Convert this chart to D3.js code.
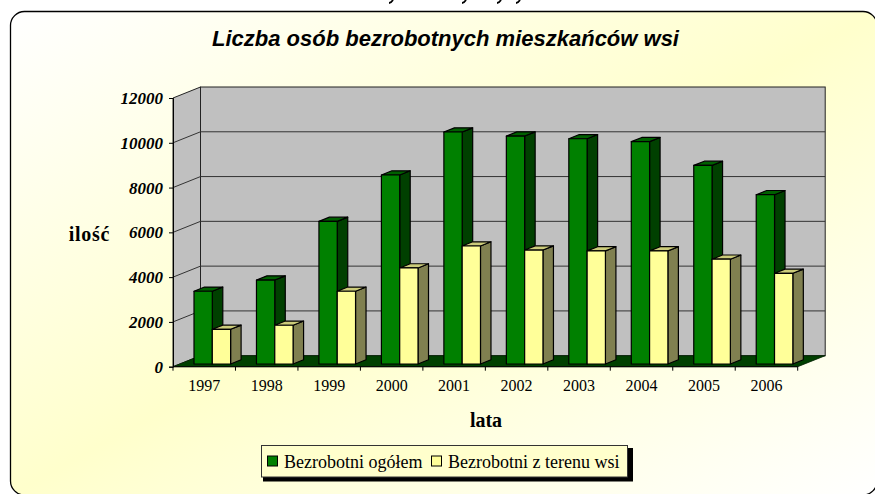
<!DOCTYPE html>
<html lang="pl">
<head>
<meta charset="utf-8">
<title>Liczba osób bezrobotnych mieszkańców wsi</title>
<script src="https://cdn.jsdelivr.net/npm/d3@7"></script>
<style>
html, body { margin: 0; padding: 0; background: #fff; overflow: hidden; }
svg { display: block; }
</style>
</head>
<body>
<div id="chart"></div>
<script>
var lata = ["1997", "1998", "1999", "2000", "2001", "2002", "2003", "2004", "2005", "2006"];
var ogolem = [3250, 3750, 6370, 8440, 10360, 10180, 10060, 9930, 8870, 7560];
var zTerenuWsi = [1550, 1730, 3250, 4290, 5270, 5090, 5050, 5050, 4680, 4050];
var yTicks = [0, 2000, 4000, 6000, 8000, 10000, 12000];
var nazwySerii = ["Bezrobotni ogółem", "Bezrobotni z terenu wsi"];
var kolory = [
    { front: "#008000", side: "#004000", top: "#006000" },
    { front: "#FFFF99", side: "#808050", top: "#CCCC7A" }
];

var width = 875, height = 494;
var serif = "'Liberation Serif', serif";
var sans = "'Liberation Sans', sans-serif";

// geometria "3D": przesuniecie sciany tylnej i slupka
var depthX = 27.5, depthY = -11;
var barDepthX = 10.5, barDepthY = -4.2;
var barOffsetY = -2.7;

var svg = d3.select("#chart").append("svg")
    .attr("width", width)
    .attr("height", height)
    .attr("viewBox", "0 0 " + width + " " + height);

var defs = svg.append("defs");
var grad = defs.append("linearGradient").attr("id", "tlo")
    .attr("x1", 0).attr("y1", 0).attr("x2", 1).attr("y2", 1);
grad.append("stop").attr("offset", "0%").attr("stop-color", "#FFFFFF");
grad.append("stop").attr("offset", "50%").attr("stop-color", "#FFFFCC");
grad.append("stop").attr("offset", "100%").attr("stop-color", "#FFFFFF");

// resztki ucietego naglowka nad wykresem (nieczytelne, tylko kreski)
svg.selectAll(".urwany")
    .data([389, 462, 497, 516])
  .enter().append("path")
    .attr("class", "urwany")
    .attr("d", function (d) { return "M" + (d + 4) + ",0 Q" + (d + 2) + ",3 " + d + ",3"; })
    .attr("fill", "none")
    .attr("stroke", "#000")
    .attr("stroke-width", 1.8);

svg.append("rect")
    .attr("x", 10.5).attr("y", 11.5)
    .attr("width", 866.5).attr("height", 483.5)
    .attr("rx", 14).attr("ry", 14)
    .attr("fill", "url(#tlo)")
    .attr("stroke", "#000")
    .attr("stroke-width", 1.3);

svg.append("text")
    .attr("x", 445.5).attr("y", 46)
    .attr("text-anchor", "middle")
    .attr("font-family", sans)
    .attr("font-weight", "bold")
    .attr("font-style", "italic")
    .attr("font-size", 22)
    .attr("fill", "#000")
    .text("Liczba osób bezrobotnych mieszkańców wsi");

var x = d3.scaleBand().domain(lata).range([173, 797.7]);
var y = d3.scaleLinear().domain([0, 12000]).range([366.7, 98]);
var xSeria = d3.scaleBand().domain([0, 1]).range([21, 57.6]);

var x0 = x.range()[0], x1 = x.range()[1];
var y0 = y(0), yMax = y(12000);

function pts(arr) {
    return arr.map(function (p) { return p.join(","); }).join(" ");
}

// sciany i podloga
var sciany = svg.append("g");
sciany.append("rect")
    .attr("x", x0 + depthX).attr("y", yMax + depthY)
    .attr("width", x1 - x0).attr("height", y0 - yMax)
    .attr("fill", "#C0C0C0")
    .attr("stroke", "#222")
    .attr("stroke-width", 1);
sciany.append("polygon")
    .attr("points", pts([[x0, y0], [x0 + depthX, y0 + depthY], [x0 + depthX, yMax + depthY], [x0, yMax]]))
    .attr("fill", "#C0C0C0")
    .attr("stroke", "#222")
    .attr("stroke-width", 1);

// linie siatki
sciany.selectAll(".siatka")
    .data(yTicks.slice(1, -1))
  .enter().append("polyline")
    .attr("class", "siatka")
    .attr("points", function (d) {
        return pts([[x0, y(d)], [x0 + depthX, y(d) + depthY], [x1 + depthX, y(d) + depthY]]);
    })
    .attr("fill", "none")
    .attr("stroke", "#333")
    .attr("stroke-width", 1);

sciany.append("polygon")
    .attr("points", pts([[x0, y0], [x1, y0], [x1 + depthX, y0 + depthY], [x0 + depthX, y0 + depthY]]))
    .attr("fill", "#004000")
    .attr("stroke", "#002000")
    .attr("stroke-width", 0.8);

// slupki
function rysujSlupek(g, rok, seria, wartosc) {
    var k = kolory[seria];
    var left = x(rok) + xSeria(seria);
    var w = xSeria.bandwidth();
    var dol = y(0) + barOffsetY;
    var gora = y(wartosc) + barOffsetY;
    var h = dol - gora;
    g.append("polygon")
        .attr("points", pts([[left + w, gora], [left + w + barDepthX, gora + barDepthY], [left + w + barDepthX, dol + barDepthY], [left + w, dol]]))
        .attr("fill", k.side);
    g.append("polygon")
        .attr("points", pts([[left, gora], [left + barDepthX, gora + barDepthY], [left + w + barDepthX, gora + barDepthY], [left + w, gora]]))
        .attr("fill", k.top);
    g.append("rect")
        .attr("x", left).attr("y", gora)
        .attr("width", w).attr("height", h)
        .attr("fill", k.front);
}

var slupki = svg.append("g")
    .attr("stroke", "#000")
    .attr("stroke-width", 1.2)
    .attr("stroke-linejoin", "round");
lata.forEach(function (rok, i) {
    rysujSlupek(slupki, rok, 0, ogolem[i]);
    rysujSlupek(slupki, rok, 1, zTerenuWsi[i]);
});

// os Y
var yAxis = svg.append("g")
    .attr("transform", "translate(" + x0 + ",0)")
    .call(d3.axisLeft(y).tickValues(yTicks).tickFormat(d3.format("d")).tickSize(4).tickPadding(6));
yAxis.select(".domain").attr("stroke", "#000");
yAxis.selectAll("text")
    .attr("font-family", serif)
    .attr("font-weight", "bold")
    .attr("font-style", "italic")
    .attr("font-size", 17)
    .attr("fill", "#000");

// os X, kreski na granicach kategorii
var xAxis = svg.append("g")
    .attr("transform", "translate(0," + y0 + ")")
    .call(d3.axisBottom(x).tickSize(0).tickPadding(13));
xAxis.select(".domain").remove();
xAxis.selectAll("text")
    .attr("font-family", serif)
    .attr("font-size", 16)
    .attr("fill", "#000");
svg.append("line")
    .attr("x1", x0).attr("x2", x1).attr("y1", y0).attr("y2", y0)
    .attr("stroke", "#000");
svg.selectAll(".kreska")
    .data(lata.concat(["koniec"]))
  .enter().append("line")
    .attr("class", "kreska")
    .attr("x1", function (d) { return d === "koniec" ? x1 : x(d); })
    .attr("x2", function (d) { return d === "koniec" ? x1 : x(d); })
    .attr("y1", y0)
    .attr("y2", y0 + 4)
    .attr("stroke", "#000");

// tytuly osi
svg.append("text")
    .attr("x", 89.5).attr("y", 240.5)
    .attr("text-anchor", "middle")
    .attr("font-family", serif)
    .attr("font-weight", "bold")
    .attr("font-size", 20)
    .attr("letter-spacing", 0.7)
    .text("ilość");
svg.append("text")
    .attr("x", 486).attr("y", 427)
    .attr("text-anchor", "middle")
    .attr("font-family", serif)
    .attr("font-weight", "bold")
    .attr("font-size", 20)
    .text("lata");

// legenda
var legenda = svg.append("g");
legenda.append("rect")
    .attr("x", 263).attr("y", 448)
    .attr("width", 370).attr("height", 33.5)
    .attr("fill", "#000");
legenda.append("rect")
    .attr("x", 261.5).attr("y", 445.5)
    .attr("width", 366).attr("height", 31.5)
    .attr("fill", "#FFFFCC")
    .attr("stroke", "#333");
var pozycje = [
    { swatch: 267.5, text: 284 },
    { swatch: 431.5, text: 448 }
];
nazwySerii.forEach(function (nazwa, i) {
    legenda.append("rect")
        .attr("x", pozycje[i].swatch).attr("y", 456)
        .attr("width", 10).attr("height", 10)
        .attr("fill", kolory[i].front)
        .attr("stroke", "#000");
    legenda.append("text")
        .attr("x", pozycje[i].text).attr("y", 467.5)
        .attr("font-family", serif)
        .attr("font-size", 18)
        .attr("fill", "#000")
        .text(nazwa);
});
</script>
</body>
</html>
